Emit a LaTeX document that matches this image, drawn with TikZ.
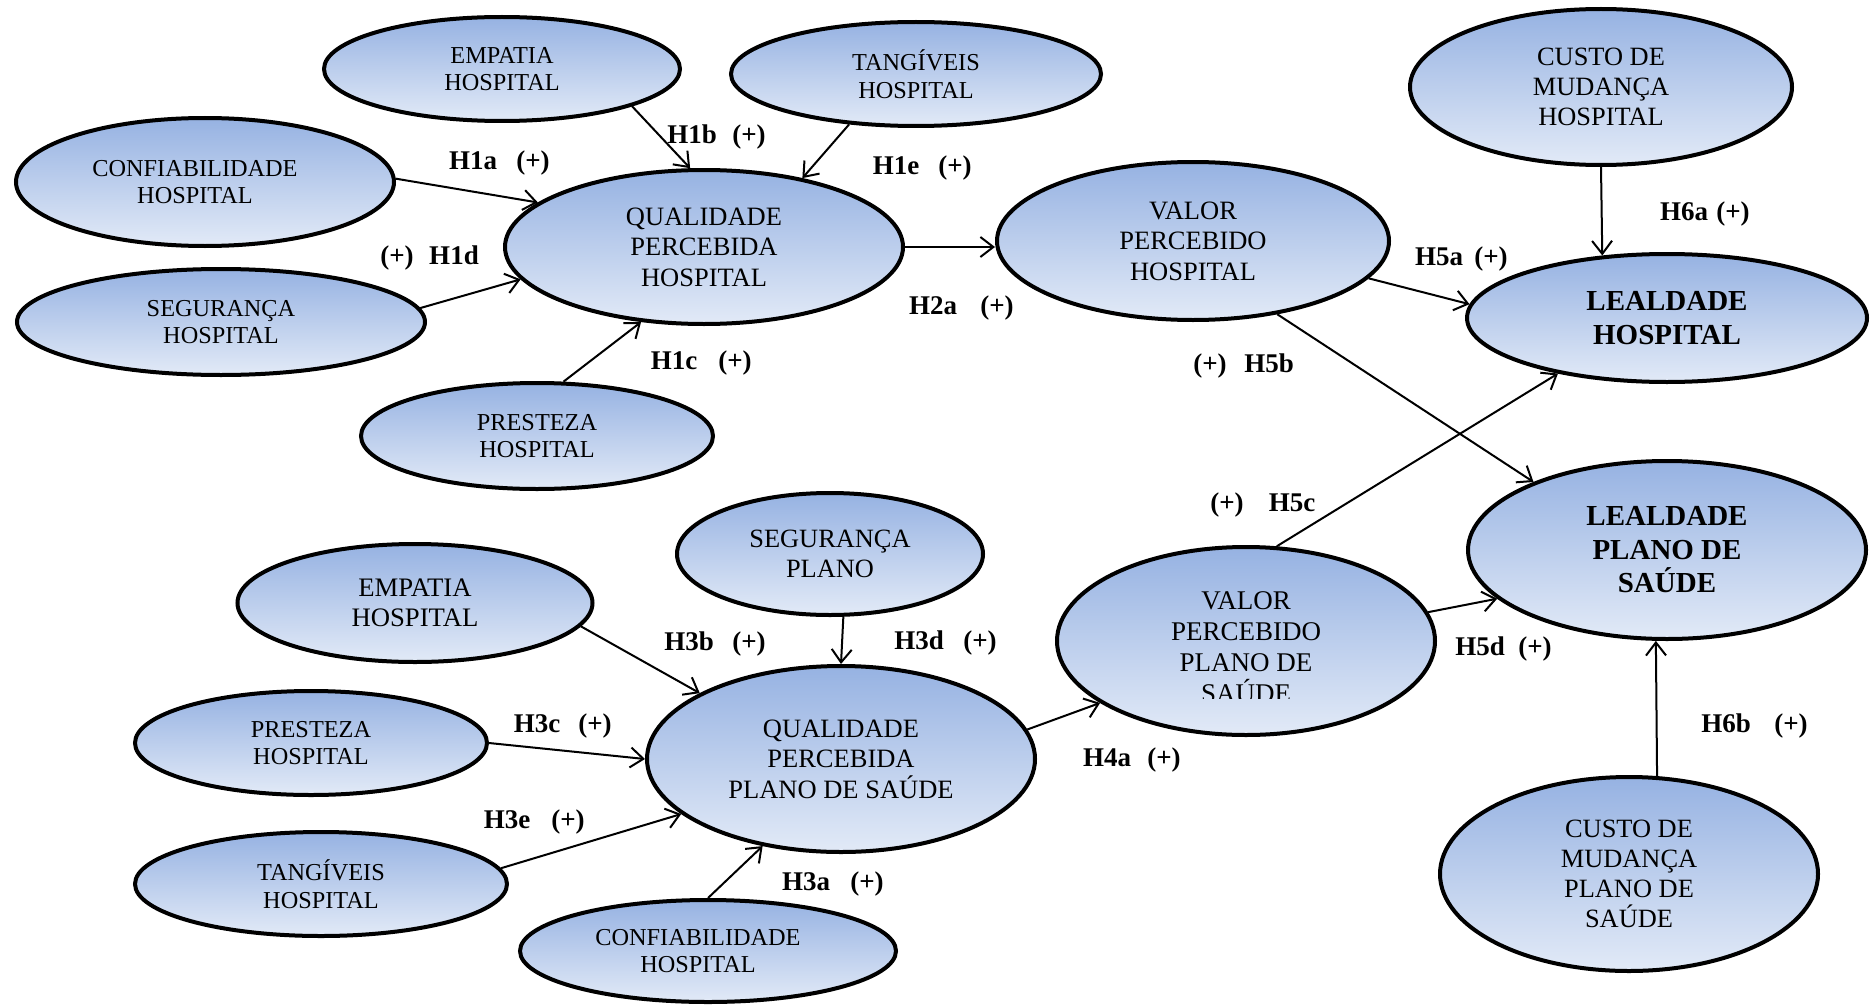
\documentclass[tikz,border=0pt]{standalone}
\usepackage{fontspec}
\setmainfont{Liberation Serif}
\usetikzlibrary{arrows.meta,shapes.geometric}
\definecolor{gtop}{RGB}{150,178,226}
\definecolor{gbot}{RGB}{226,234,247}
\tikzset{
  ell/.style={ellipse, draw=black, line width=4pt, top color=gtop, bottom color=gbot, inner sep=0pt, align=center},
  fa/.style={font=\fontsize{24.3}{27.5}\selectfont},
  fb/.style={font=\fontsize{26.4}{30}\selectfont},
  fc/.style={font=\fontsize{26.5}{30.5}\selectfont},
  fd/.style={font=\fontsize{29}{33.5}\selectfont\bfseries},
  conn/.style={line width=2pt, -{Straight Barb[length=13pt,width=20pt]}},
  lbl/.style={font=\fontsize{27}{30}\selectfont\bfseries, inner sep=0pt, anchor=base},
  txt/.style={inner sep=0pt, align=center}
}
\newcommand\hlab[6]{%
  \node[lbl] (#1a) at (#2,{#6+9}) {#3};
  \node[lbl] (#1b) at (#4,{#6+9}) {#5};}
\begin{document}
\begin{tikzpicture}[x=1pt,y=-1pt]
\useasboundingbox (0,0) rectangle (1870,1006);
% ---------- hospital part ----------
\node[ell,fa,minimum width=356pt,minimum height=104pt] (emp1) at (502,69) {EMPATIA\\HOSPITAL};
\node[ell,fa,minimum width=370pt,minimum height=104pt] (tang1) at (916,74) {TANGÍVEIS\\HOSPITAL};
\node[ell,minimum width=378pt,minimum height=128pt,
      label={[txt,fa,xshift=-10pt]center:CONFIABILIDADE\\HOSPITAL}] (conf1) at (205,182) {};
\node[ell,fc,minimum width=398pt,minimum height=154pt] (qph) at (704,247) {QUALIDADE\\PERCEBIDA\\HOSPITAL};
\node[ell,fa,minimum width=408pt,minimum height=106pt] (seg1) at (221,322) {SEGURANÇA\\HOSPITAL};
\node[ell,fa,minimum width=352pt,minimum height=106pt] (pres1) at (537,436) {PRESTEZA\\HOSPITAL};
\node[ell,fc,minimum width=392pt,minimum height=158pt] (vph) at (1193,241) {VALOR\\PERCEBIDO\\HOSPITAL};
\node[ell,fb,minimum width=382pt,minimum height=156pt] (custo1) at (1601,87) {CUSTO DE\\MUDANÇA\\HOSPITAL};
\node[ell,fd,minimum width=400pt,minimum height=128pt] (lh) at (1667,318) {LEALDADE\\HOSPITAL};
\node[ell,fd,minimum width=398pt,minimum height=178pt] (lps) at (1667,550) {LEALDADE\\PLANO DE\\SAÚDE};
% ---------- plano part ----------
\node[ell,fb,minimum width=306pt,minimum height=122pt] (segp) at (830,554) {SEGURANÇA\\PLANO};
\node[ell,font=\fontsize{26.7}{29.5}\selectfont,minimum width=355pt,minimum height=118pt] (emp2) at (415,603) {EMPATIA\\HOSPITAL};
\node[ell,minimum width=378pt,minimum height=188pt] (vpps) at (1246,641) {};
\begin{scope}
  \clip (1060,540) rectangle (1430,698);
  \node[txt,font=\fontsize{27}{31}\selectfont,yshift=-6.5pt] (vppstext) at (vpps.center) {VALOR\\PERCEBIDO\\PLANO DE\\SAÚDE};
\end{scope}
\node[ell,fa,minimum width=352pt,minimum height=104pt] (pres2) at (311,743) {PRESTEZA\\HOSPITAL};
\node[ell,fc,minimum width=388pt,minimum height=186pt] (qpps) at (841,759) {QUALIDADE\\PERCEBIDA\\PLANO DE SAÚDE};
\node[ell,fa,minimum width=372pt,minimum height=104pt] (tang2) at (321,884) {TANGÍVEIS\\HOSPITAL};
\node[ell,minimum width=376pt,minimum height=102pt,
      label={[txt,fa,xshift=-10pt]center:CONFIABILIDADE\\HOSPITAL}] (conf2) at (708,951) {};
\node[ell,fb,minimum width=378pt,minimum height=194pt] (custo2) at (1629,874) {CUSTO DE\\MUDANÇA\\PLANO DE\\SAÚDE};
% ---------- connectors ----------
\draw[conn] (conf1.1.5) -- (qph.165.6);
\draw[conn] (emp1.-16.3) -- (qph.100.5);
\draw[conn] (tang1.217.2) -- (qph.35.2);
\draw[conn] (seg1.4.2) -- (qph.190.2);
\draw[conn] (pres1.64.3) -- (qph.230.3);
\draw[conn] (qph.east) -- (qph.east -| vph.west);
\draw[conn] (vph.-12.5) -- (lh.176.3);
\draw[conn] (custo1.south) -- (lh.136.7);
\draw[conn] (vph.-41) -- (lps.153.8);
\draw[conn] (vpps.72.5) -- (lh.207.6);
\draw[conn] (vpps.9.5) -- (lps.196.5);
\draw[conn] (custo2.74.4) -- (lps.263);
\draw[conn] (qpps.9.7) -- (vpps.203.6);
\draw[conn] (emp2.-8) -- (qpps.155.3);
\draw[conn] (segp.-78.5) -- (qpps.90);
\draw[conn] (pres2.east) -- (qpps.west);
\draw[conn] (tang2.5.6) -- (qpps.199);
\draw[conn] (conf2.90) -- (qpps.228);
% ---------- labels ----------
\hlab{l1a}{473}{H1a}{533}{(+)}{160}
\hlab{l1b}{692}{H1b}{749}{(+)}{134}
\hlab{l1e}{896}{H1e}{955}{(+)}{165}
\hlab{l1d}{397}{(+)}{454}{H1d}{255}
\hlab{l1c}{674}{H1c}{735}{(+)}{360}
\hlab{l2a}{933}{H2a}{997}{(+)}{305}
\hlab{l5a}{1439}{H5a}{1491}{(+)}{256}
\hlab{l6a}{1684}{H6a}{1733}{(+)}{211}
\hlab{l5b}{1210}{(+)}{1269}{H5b}{363}
\hlab{l5c}{1227}{(+)}{1292}{H5c}{502}
\hlab{l5d}{1480}{H5d}{1535}{(+)}{646}
\hlab{l6b}{1726}{H6b}{1791}{(+)}{723}
\hlab{l4a}{1107}{H4a}{1164}{(+)}{757}
\hlab{l3b}{689}{H3b}{749}{(+)}{641}
\hlab{l3d}{919}{H3d}{980}{(+)}{640}
\hlab{l3c}{537}{H3c}{595}{(+)}{723}
\hlab{l3e}{507}{H3e}{568}{(+)}{819}
\hlab{l3a}{806}{H3a}{867}{(+)}{881}
\end{tikzpicture}
\end{document}
